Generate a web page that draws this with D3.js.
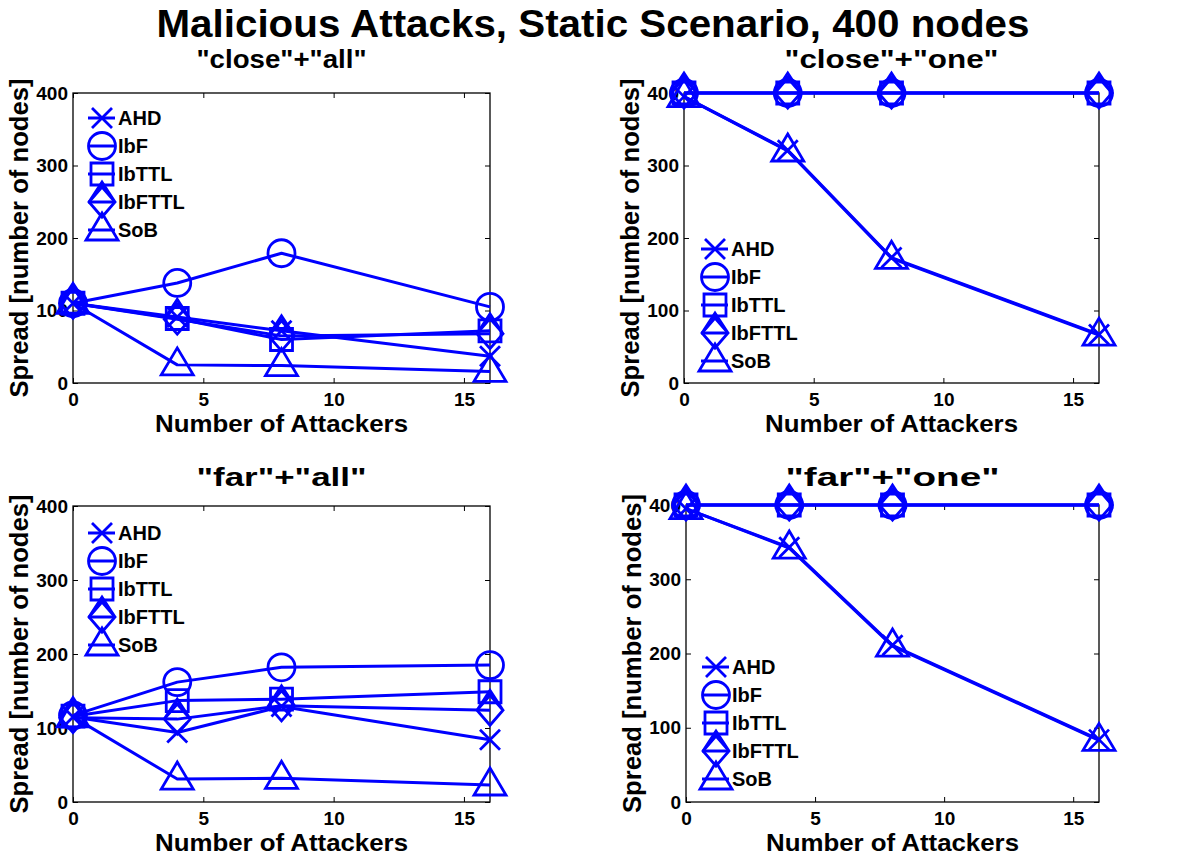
<!DOCTYPE html>
<html>
<head>
<meta charset="utf-8">
<script src="https://cdn.jsdelivr.net/npm/d3@7"></script>
<style>
  body { margin: 0; background: #fff; }
  text { font-family: "Liberation Sans", Arial, sans-serif; font-weight: bold; fill: #000; }
</style>
</head>
<body>
<div id="chart"></div>
<script>
// number of attackers (x values shared by every panel)
var attackers = [0, 4, 8, 16];
var seriesNames = ["AHD", "IbF", "IbTTL", "IbFTTL", "SoB"];
var xTicks = [0, 5, 10, 15];
var yTicks = [0, 100, 200, 300, 400];

// spread values, one row per series (AHD, IbF, IbTTL, IbFTTL, SoB)
var closeAll = [
  [110, 91, 72, 37],
  [110, 138, 179, 105],
  [110, 89, 60, 72],
  [110, 88, 65, 68],
  [110, 25, 24, 16]
];
var closeOne = [
  [395, 321, 173, 67],
  [400, 400, 400, 400],
  [400, 400, 400, 400],
  [400, 400, 400, 400],
  [395, 320, 172, 66]
];
var farAll = [
  [115, 94, 129, 84],
  [117, 162, 182, 185],
  [116, 137, 139, 149],
  [114, 112, 130, 124],
  [115, 31, 32, 23]
];
var farOne = [
  [395, 343, 211, 84],
  [400, 400, 400, 400],
  [400, 400, 400, 400],
  [400, 400, 400, 400],
  [395, 342, 210, 83]
];

var panelTitles = ['"close"+"all"', '"close"+"one"', '"far"+"all"', '"far"+"one"'];
var panelData = [closeAll, closeOne, farAll, farOne];

// layout of each panel in pixels
var panels = [
  {left: 73, right: 490, top: 93, bottom: 383, titleY: 68, legX: 88, legY: 118},
  {left: 684, right: 1099, top: 93, bottom: 383, titleY: 68, legX: 701, legY: 249},
  {left: 73, right: 490, top: 506, bottom: 802, titleY: 486, legX: 88, legY: 533},
  {left: 686, right: 1099, top: 505, bottom: 802, titleY: 486, legX: 702, legY: 667}
];

var blue = "#0000ff";

// marker shapes in the order of the series
var markers = [
  "M-10,-10L10,10M-10,10L10,-10",
  "M13.5,0A13.5,13.5 0 1,1 -13.5,0A13.5,13.5 0 1,1 13.5,0Z",
  "M-11,-11H11V11H-11Z",
  "M0,-15L13,0L0,15L-13,0ZM-13,0L0,-20L13,0",
  "M0,-17L16,10L-16,10Z"
];

var svg = d3.select("#chart")
  .append("svg")
  .attr("width", 1189)
  .attr("height", 858);

svg.append("text")
  .attr("x", 593)
  .attr("y", 37)
  .attr("text-anchor", "middle")
  .attr("font-size", 38)
  .attr("textLength", 873)
  .attr("lengthAdjust", "spacingAndGlyphs")
  .text("Malicious Attacks, Static Scenario, 400 nodes");

panels.forEach(function(p, i) {
  var g = svg.append("g");

  var x = d3.scaleLinear().domain([0, 16]).range([p.left, p.right]);
  var y = d3.scaleLinear().domain([0, 400]).range([p.bottom, p.top]);
  var cx = (p.left + p.right) / 2;
  var cy = (p.top + p.bottom) / 2;

  // box
  g.append("rect")
    .attr("x", p.left).attr("y", p.top)
    .attr("width", p.right - p.left).attr("height", p.bottom - p.top)
    .attr("fill", "none").attr("stroke", "#000").attr("stroke-width", 1.3);

  // axes, ticks inside
  var bottomAxis = d3.axisBottom(x).tickValues(xTicks).tickSizeInner(-5).tickSizeOuter(0).tickPadding(10);
  var leftAxis = d3.axisLeft(y).tickValues(yTicks).tickSizeInner(-5).tickSizeOuter(0).tickPadding(10);
  var topAxis = d3.axisTop(x).tickValues(xTicks).tickSizeInner(-5).tickSizeOuter(0).tickFormat("");
  var rightAxis = d3.axisRight(y).tickValues(yTicks).tickSizeInner(-5).tickSizeOuter(0).tickFormat("");

  var ax = [
    g.append("g").attr("transform", "translate(0," + p.bottom + ")").call(bottomAxis),
    g.append("g").attr("transform", "translate(" + p.left + ",0)").call(leftAxis),
    g.append("g").attr("transform", "translate(0," + p.top + ")").call(topAxis),
    g.append("g").attr("transform", "translate(" + p.right + ",0)").call(rightAxis)
  ];
  ax.forEach(function(a) {
    a.select(".domain").remove();
    a.selectAll("line").attr("stroke", "#000").attr("stroke-width", 1);
    a.selectAll("text")
      .attr("font-size", 19)
      .attr("font-family", "Liberation Sans, Arial, sans-serif")
      .attr("font-weight", "bold")
      .attr("fill", "#000");
  });
  ax[0].selectAll("text").attr("dy", null).attr("y", 23);
  ax[1].selectAll("text").attr("x", -5);

  // titles and axis labels
  g.append("text")
    .attr("x", cx).attr("y", p.titleY)
    .attr("text-anchor", "middle")
    .attr("font-size", 26)
    .attr("textLength", i % 2 == 0 ? 170 : 214)
    .attr("lengthAdjust", "spacingAndGlyphs")
    .text(panelTitles[i]);

  g.append("text")
    .attr("x", cx).attr("y", p.bottom + 49)
    .attr("text-anchor", "middle")
    .attr("font-size", 24)
    .attr("textLength", 253)
    .attr("lengthAdjust", "spacingAndGlyphs")
    .text("Number of Attackers");

  g.append("text")
    .attr("transform", "translate(" + (p.left - 45) + "," + cy + ") rotate(-90)")
    .attr("text-anchor", "middle")
    .attr("font-size", 25)
    .attr("textLength", 319)
    .attr("lengthAdjust", "spacingAndGlyphs")
    .text("Spread [number of nodes]");

  // series
  var line = d3.line()
    .x(function(d, j) { return x(attackers[j]); })
    .y(function(d) { return y(d); });

  panelData[i].forEach(function(vals, s) {
    g.append("path")
      .attr("d", line(vals))
      .attr("fill", "none")
      .attr("stroke", blue)
      .attr("stroke-width", 3)
      .attr("stroke-linejoin", "round");

    g.selectAll(".m" + s)
      .data(vals)
      .enter()
      .append("path")
      .attr("class", "m" + s)
      .attr("transform", function(d, j) { return "translate(" + x(attackers[j]) + "," + y(d) + ")"; })
      .attr("d", markers[s])
      .attr("fill", "none")
      .attr("stroke", blue)
      .attr("stroke-width", 2.8);
  });

  // legend
  var leg = g.append("g").attr("transform", "translate(" + p.legX + "," + p.legY + ")");
  seriesNames.forEach(function(name, s) {
    var row = leg.append("g").attr("transform", "translate(0," + (s * 28) + ")");
    row.append("line")
      .attr("x1", 0).attr("x2", 27)
      .attr("stroke", blue).attr("stroke-width", 3);
    row.append("path")
      .attr("transform", "translate(14,0)")
      .attr("d", markers[s])
      .attr("fill", "none")
      .attr("stroke", blue)
      .attr("stroke-width", 2.8);
    row.append("text")
      .attr("x", 30).attr("y", 7)
      .attr("font-size", 20)
      .text(name);
  });
});
</script>
</body>
</html>
